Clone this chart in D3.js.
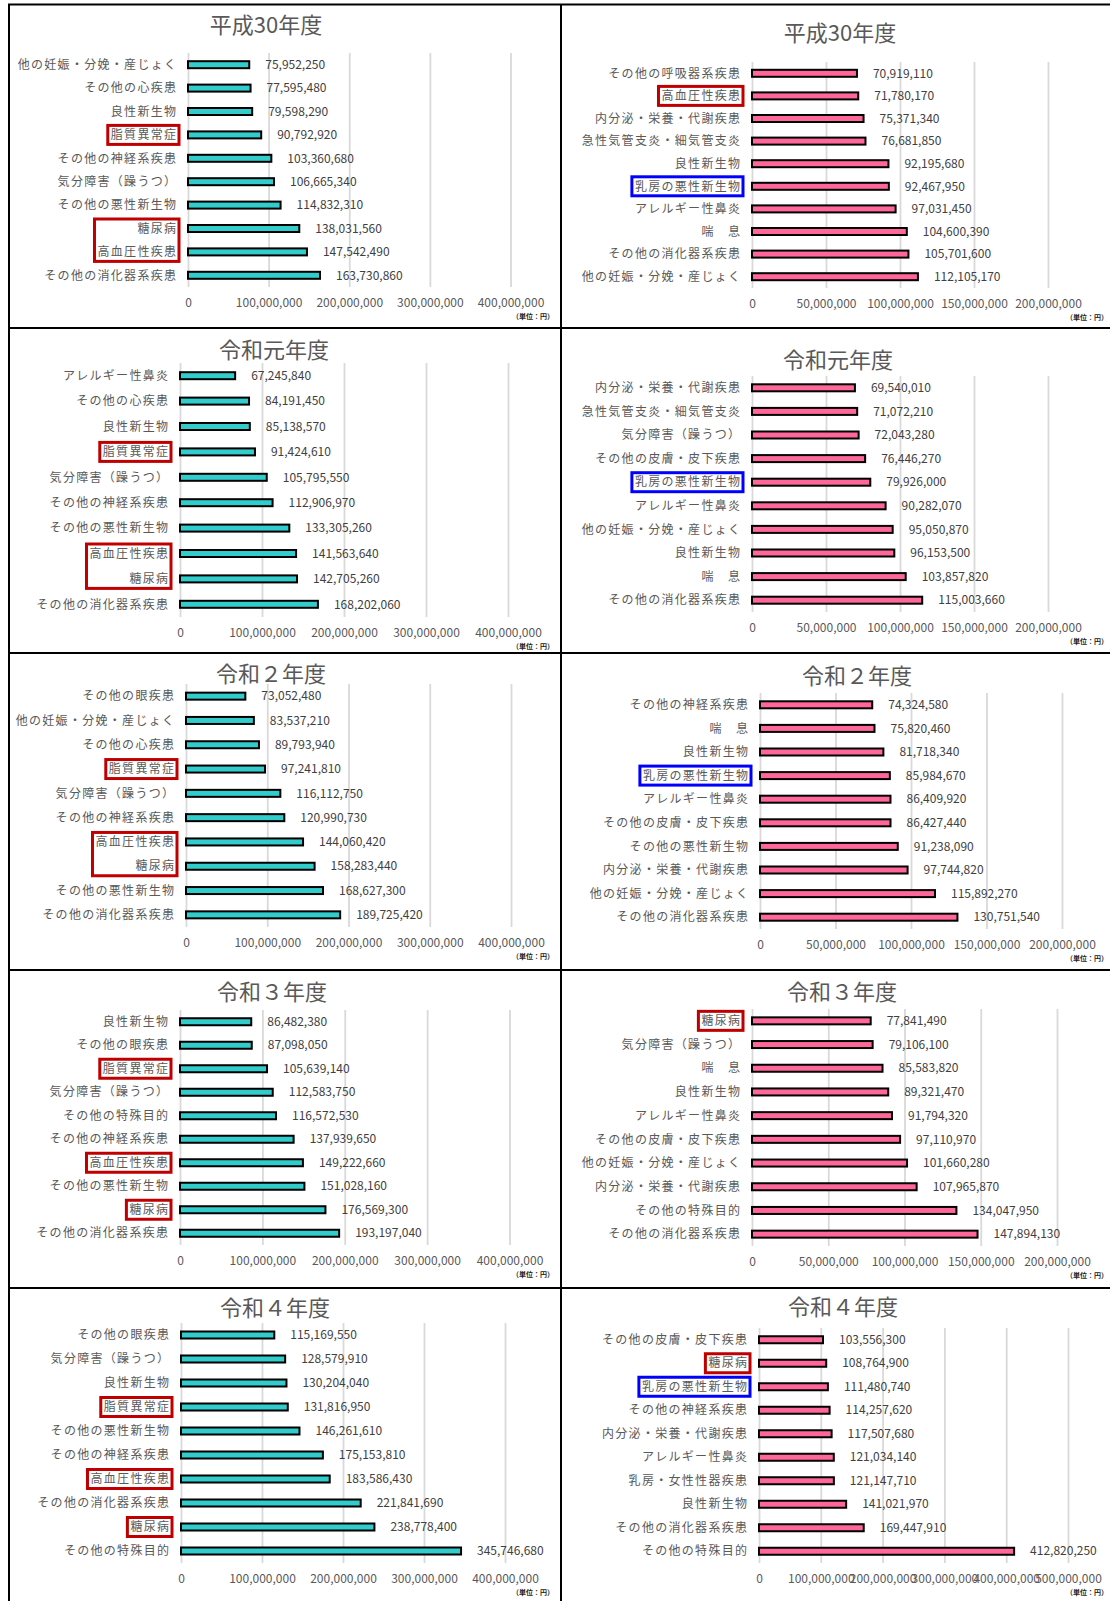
<!DOCTYPE html>
<html>
<head>
<meta charset="utf-8">
<script src="https://cdn.jsdelivr.net/npm/d3@7"></script>
<style>
  body { margin: 0; background: #fff; }
  text { font-family: "Noto Sans CJK JP", "Noto Sans", sans-serif; }
</style>
</head>
<body>
<svg id="chart" width="1110" height="1601"></svg>
<script>
// ---- data (top to bottom in each panel) ----
const titles = ["平成30年度", "令和元年度", "令和２年度", "令和３年度", "令和４年度"];

const catsL1 = ["他の妊娠・分娩・産じょく", "その他の心疾患", "良性新生物", "脂質異常症", "その他の神経系疾患", "気分障害（躁うつ）", "その他の悪性新生物", "糖尿病", "高血圧性疾患", "その他の消化器系疾患"];
const valsL1 = [75952250, 77595480, 79598290, 90792920, 103360680, 106665340, 114832310, 138031560, 147542490, 163730860];

const catsL2 = ["アレルギー性鼻炎", "その他の心疾患", "良性新生物", "脂質異常症", "気分障害（躁うつ）", "その他の神経系疾患", "その他の悪性新生物", "高血圧性疾患", "糖尿病", "その他の消化器系疾患"];
const valsL2 = [67245840, 84191450, 85138570, 91424610, 105795550, 112906970, 133305260, 141563640, 142705260, 168202060];

const catsL3 = ["その他の眼疾患", "他の妊娠・分娩・産じょく", "その他の心疾患", "脂質異常症", "気分障害（躁うつ）", "その他の神経系疾患", "高血圧性疾患", "糖尿病", "その他の悪性新生物", "その他の消化器系疾患"];
const valsL3 = [73052480, 83537210, 89793940, 97241810, 116112750, 120990730, 144060420, 158283440, 168627300, 189725420];

const catsL4 = ["良性新生物", "その他の眼疾患", "脂質異常症", "気分障害（躁うつ）", "その他の特殊目的", "その他の神経系疾患", "高血圧性疾患", "その他の悪性新生物", "糖尿病", "その他の消化器系疾患"];
const valsL4 = [86482380, 87098050, 105639140, 112583750, 116572530, 137939650, 149222660, 151028160, 176569300, 193197040];

const catsL5 = ["その他の眼疾患", "気分障害（躁うつ）", "良性新生物", "脂質異常症", "その他の悪性新生物", "その他の神経系疾患", "高血圧性疾患", "その他の消化器系疾患", "糖尿病", "その他の特殊目的"];
const valsL5 = [115169550, 128579910, 130204040, 131816950, 146261610, 175153810, 183586430, 221841690, 238778400, 345746680];

const catsR1 = ["その他の呼吸器系疾患", "高血圧性疾患", "内分泌・栄養・代謝疾患", "急性気管支炎・細気管支炎", "良性新生物", "乳房の悪性新生物", "アレルギー性鼻炎", "喘　息", "その他の消化器系疾患", "他の妊娠・分娩・産じょく"];
const valsR1 = [70919110, 71780170, 75371340, 76681850, 92195680, 92467950, 97031450, 104600390, 105701600, 112105170];

const catsR2 = ["内分泌・栄養・代謝疾患", "急性気管支炎・細気管支炎", "気分障害（躁うつ）", "その他の皮膚・皮下疾患", "乳房の悪性新生物", "アレルギー性鼻炎", "他の妊娠・分娩・産じょく", "良性新生物", "喘　息", "その他の消化器系疾患"];
const valsR2 = [69540010, 71072210, 72043280, 76446270, 79926000, 90282070, 95050870, 96153500, 103857820, 115003660];

const catsR3 = ["その他の神経系疾患", "喘　息", "良性新生物", "乳房の悪性新生物", "アレルギー性鼻炎", "その他の皮膚・皮下疾患", "その他の悪性新生物", "内分泌・栄養・代謝疾患", "他の妊娠・分娩・産じょく", "その他の消化器系疾患"];
const valsR3 = [74324580, 75820460, 81718340, 85984670, 86409920, 86427440, 91238090, 97744820, 115892270, 130751540];

const catsR4 = ["糖尿病", "気分障害（躁うつ）", "喘　息", "良性新生物", "アレルギー性鼻炎", "その他の皮膚・皮下疾患", "他の妊娠・分娩・産じょく", "内分泌・栄養・代謝疾患", "その他の特殊目的", "その他の消化器系疾患"];
const valsR4 = [77841490, 79106100, 85583820, 89321470, 91794320, 97110970, 101660280, 107965870, 134047950, 147894130];

const catsR5 = ["その他の皮膚・皮下疾患", "糖尿病", "乳房の悪性新生物", "その他の神経系疾患", "内分泌・栄養・代謝疾患", "アレルギー性鼻炎", "乳房・女性性器疾患", "良性新生物", "その他の消化器系疾患", "その他の特殊目的"];
const valsR5 = [103556300, 108764900, 111480740, 114257620, 117507680, 121034140, 121147710, 141021970, 169447910, 412820250];

const ticksLeft = [0, 100000000, 200000000, 300000000, 400000000];
const ticksRight = [0, 50000000, 100000000, 150000000, 200000000];
const ticksR5 = [0, 100000000, 200000000, 300000000, 400000000, 500000000];

// labels framed in the original
const redCats = ["脂質異常症", "糖尿病", "高血圧性疾患"];
const blueCats = ["乳房の悪性新生物"];

const unitText = "（単位：円）";

// ---- layout (plot area of each panel) ----
const colors = { left: "#33CCCC", right: "#FF6699", red: "#C00000", blue: "#0000FF", grid: "#D9D9D9", text: "#595959" };

const layouts = [
  { x0: 188, x1: 510.5, top: 53,   bottom: 287,  tx: 266, ty: 25,   ux: 554 },
  { x0: 180, x1: 508,   top: 363,  bottom: 617,  tx: 274, ty: 350,  ux: 554 },
  { x0: 186, x1: 511,   top: 684,  bottom: 927,  tx: 271, ty: 674,  ux: 554 },
  { x0: 180, x1: 509.5, top: 1010, bottom: 1245, tx: 272, ty: 992,  ux: 554 },
  { x0: 181, x1: 505,   top: 1323, bottom: 1563, tx: 275, ty: 1308, ux: 554 },
  { x0: 752, x1: 1048,  top: 62,   bottom: 288,  tx: 840, ty: 33,   ux: 1108 },
  { x0: 752, x1: 1048,  top: 376,  bottom: 612,  tx: 838, ty: 360,  ux: 1108 },
  { x0: 760, x1: 1062,  top: 693,  bottom: 929,  tx: 857, ty: 676,  ux: 1108 },
  { x0: 752, x1: 1057,  top: 1009, bottom: 1246, tx: 842, ty: 992,  ux: 1108 },
  { x0: 759, x1: 1068,  top: 1328, bottom: 1563, tx: 843, ty: 1307, ux: 1108 }
];

const panels = [
  { title: titles[0], cats: catsL1, vals: valsL1, ticks: ticksLeft, fill: colors.left },
  { title: titles[1], cats: catsL2, vals: valsL2, ticks: ticksLeft, fill: colors.left },
  { title: titles[2], cats: catsL3, vals: valsL3, ticks: ticksLeft, fill: colors.left },
  { title: titles[3], cats: catsL4, vals: valsL4, ticks: ticksLeft, fill: colors.left },
  { title: titles[4], cats: catsL5, vals: valsL5, ticks: ticksLeft, fill: colors.left },
  { title: titles[0], cats: catsR1, vals: valsR1, ticks: ticksRight, fill: colors.right },
  { title: titles[1], cats: catsR2, vals: valsR2, ticks: ticksRight, fill: colors.right },
  { title: titles[2], cats: catsR3, vals: valsR3, ticks: ticksRight, fill: colors.right },
  { title: titles[3], cats: catsR4, vals: valsR4, ticks: ticksRight, fill: colors.right },
  { title: titles[4], cats: catsR5, vals: valsR5, ticks: ticksR5, fill: colors.right }
];

const svg = d3.select("#chart");
svg.append("rect").attr("width", 1110).attr("height", 1601).attr("fill", "#fff");

const fmt = d3.format(",");

function drawPanel(p, lay) {
  const g = svg.append("g");

  const x = d3.scaleLinear()
    .domain([0, p.ticks[p.ticks.length - 1]])
    .range([lay.x0, lay.x1]);

  const y = d3.scaleBand()
    .domain(p.cats)
    .range([lay.top, lay.bottom])
    .padding(0);

  // gridlines + tick labels
  const xAxis = d3.axisBottom(x)
    .tickValues(p.ticks)
    .tickFormat(fmt)
    .tickSize(-(lay.bottom - lay.top))
    .tickPadding(11.5);

  const ax = g.append("g")
    .attr("transform", `translate(0,${lay.bottom})`)
    .call(xAxis);
  ax.select(".domain").remove();
  ax.selectAll("line").attr("stroke", colors.grid).attr("stroke-width", 1.8);
  ax.selectAll("text")
    .attr("fill", colors.text)
    .style("font-size", "12px")
    .style("font-family", "'Noto Sans CJK JP', sans-serif");

  // title
  g.append("text")
    .attr("x", lay.tx)
    .attr("y", lay.ty)
    .attr("dy", "0.35em")
    .attr("text-anchor", "middle")
    .attr("fill", colors.text)
    .style("font-size", "22px")
    .text(p.title);

  const boxLayer = g.append("g");

  // category labels
  const catRight = lay.x0 - 12;
  const labels = g.append("g").selectAll("text")
    .data(p.cats)
    .enter()
    .append("text")
    .attr("x", catRight + 1.3)
    .attr("y", d => y(d) + y.bandwidth() / 2)
    .attr("dy", "0.35em")
    .attr("text-anchor", "end")
    .attr("fill", colors.text)
    .style("font-size", "12px")
    .style("letter-spacing", "1.3px")
    .text(d => d);

  // bars
  g.append("g").selectAll("rect")
    .data(p.vals)
    .enter()
    .append("rect")
    .attr("x", x(0))
    .attr("y", (d, i) => y(p.cats[i]) + y.bandwidth() / 2 - 3.5)
    .attr("width", d => x(d) - x(0))
    .attr("height", 7)
    .attr("fill", p.fill)
    .attr("stroke", "#000")
    .attr("stroke-width", 2);

  // value labels
  g.append("g").selectAll("text")
    .data(p.vals)
    .enter()
    .append("text")
    .attr("x", d => x(d) + 16)
    .attr("y", (d, i) => y(p.cats[i]) + y.bandwidth() / 2)
    .attr("dy", "0.35em")
    .attr("fill", "#404040")
    .style("font-size", "12px")
    .text(d => fmt(d));

  // unit
  g.append("text")
    .attr("x", lay.ux)
    .attr("y", lay.bottom + 30)
    .attr("dy", "0.35em")
    .attr("text-anchor", "end")
    .attr("fill", "#222")
    .style("font-size", "7px")
    .style("font-weight", "bold")
    .text(unitText);

  // highlight frames: merge neighbouring labels of the same colour
  const kind = c => redCats.includes(c) ? "red" : (blueCats.includes(c) ? "blue" : null);
  const nodes = labels.nodes();
  let i = 0;
  while (i < p.cats.length) {
    const k = kind(p.cats[i]);
    if (!k) { i++; continue; }
    let j = i;
    while (j + 1 < p.cats.length && kind(p.cats[j + 1]) === k) j++;
    let left = Infinity;
    for (let n = i; n <= j; n++) left = Math.min(left, nodes[n].getBBox().x);
    const c1 = y(p.cats[i]) + y.bandwidth() / 2;
    const c2 = y(p.cats[j]) + y.bandwidth() / 2;
    boxLayer.append("rect")
      .attr("x", left - 3)
      .attr("y", c1 - 9.5)
      .attr("width", catRight + 3 - (left - 3))
      .attr("height", c2 - c1 + 19)
      .attr("fill", "#fff")
      .attr("stroke", colors[k])
      .attr("stroke-width", 3);
    i = j + 1;
  }
}

panels.forEach((p, i) => drawPanel(p, layouts[i]));

// panel frames
const frame = svg.append("g").attr("stroke", "#000").attr("stroke-width", 2).attr("fill", "none");
frame.append("rect").attr("x", 9).attr("y", 4.5).attr("width", 1110).attr("height", 1610);
[328, 653, 970, 1288].forEach(yy => {
  frame.append("line").attr("x1", 9).attr("x2", 1112).attr("y1", yy).attr("y2", yy);
});
frame.append("line").attr("x1", 561).attr("x2", 561).attr("y1", 4.5).attr("y2", 1603);
</script>
</body>
</html>
